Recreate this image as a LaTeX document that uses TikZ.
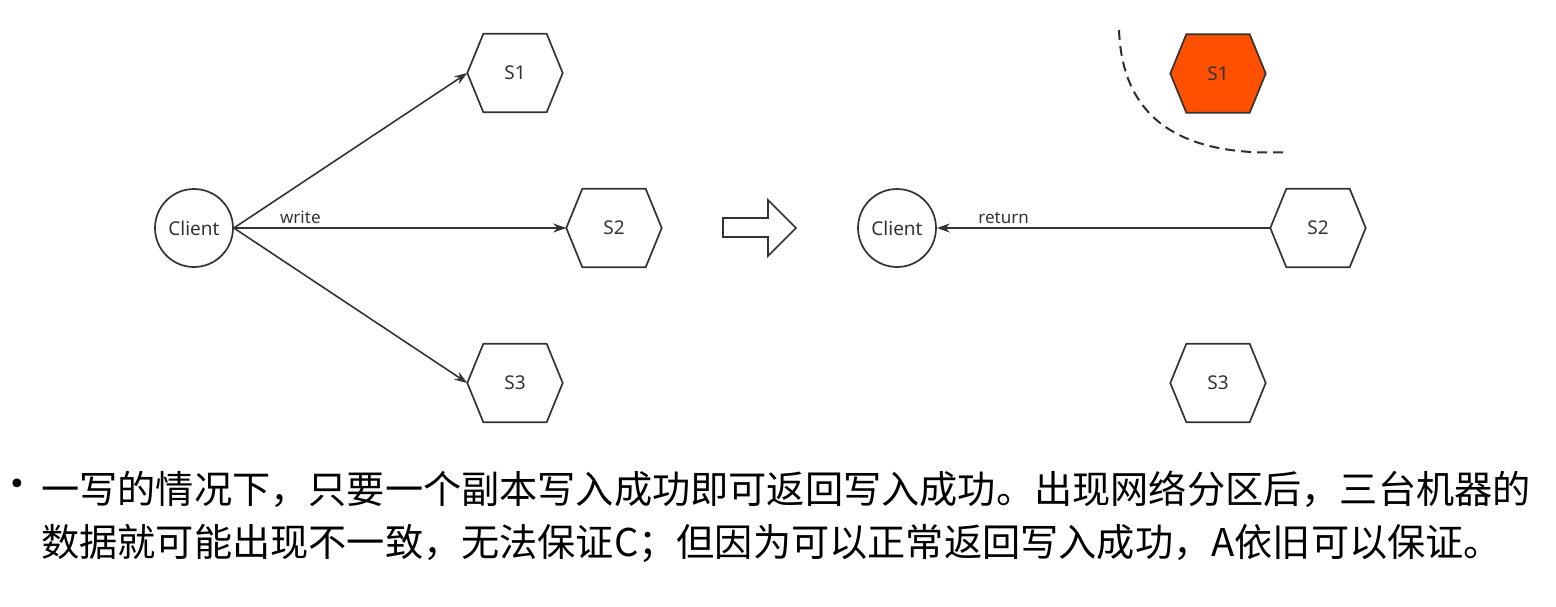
\documentclass[tikz,border=0pt]{standalone}
\usepackage{fontspec}
\setmainfont{Noto Sans}
\newfontfamily\cjk{Noto Sans CJK SC}
\newfontfamily\sym{DejaVu Sans}
\usetikzlibrary{arrows.meta,calc}
\definecolor{ink}{HTML}{333333}
\definecolor{hot}{HTML}{FF5000}
\tikzset{
  lbl/.style={font=\fontsize{19}{22}\selectfont, text=ink},
  hexn/.style={shape=rectangle, minimum width=95, minimum height=78, inner sep=0pt, lbl},
  cli/.style={circle, draw=ink, line width=1.7pt, minimum size=78, inner sep=0pt, lbl},
  conn/.style={draw=ink, line width=1.6pt, -{Stealth[length=13pt,width=9pt]}},
  edgelbl/.style={font=\fontsize{17}{20}\selectfont, text=ink},
  hexline/.style={draw=ink, line width=1.7pt, line join=miter},
  body/.style={font=\cjk\fontsize{38.2}{45}\selectfont, text=black, anchor=west, inner sep=0pt}
}
\newcommand{\hexdraw}[2][]{%
  \path[hexline,#1] (#2.west) -- ([xshift=16pt]#2.north west) -- ([xshift=-16pt]#2.north east) -- (#2.east) -- ([xshift=-16pt]#2.south east) -- ([xshift=16pt]#2.south west) -- cycle;}
\begin{document}
\begin{tikzpicture}[x=1pt,y=-1pt]
\useasboundingbox (0,0) rectangle (1556,606);
% left diagram
\node[cli] (c1) at (194,228) {Client};
\node[hexn] (s1) at (515,73) {};
\node[hexn] (s2) at (614,228) {};
\node[hexn] (s3) at (515,383) {};
\hexdraw{s1}\hexdraw{s2}\hexdraw{s3}
\node[lbl] at (s1) {S1};
\node[lbl] at (s2) {S2};
\node[lbl] at (s3) {S3};
\draw[conn] (c1.east) -- (s1.west);
\draw[conn] (c1.east) -- node[edgelbl, pos=0.2, above=0pt] {write} (s2.west);
\draw[conn] (c1.east) -- (s3.west);
% big arrow
\draw[draw=ink, line width=1.7pt, line join=miter] (723,218) -- (768,218) -- (768,200) -- (796,228) -- (768,256) -- (768,237) -- (723,237) -- cycle;
% right diagram
\node[cli] (c2) at (897,228) {Client};
\node[hexn] (r1) at (1218,73.5) {};
\node[hexn] (r2) at (1318,228) {};
\node[hexn] (r3) at (1218,383) {};
\hexdraw[fill=hot]{r1}\hexdraw{r2}\hexdraw{r3}
\node[lbl] at (r1) {S1};
\node[lbl] at (r2) {S2};
\node[lbl] at (r3) {S3};
\draw[conn] (r2.west) -- node[edgelbl, pos=0.8, above=0pt] {return} (c2.east);
\draw[draw=ink!90!black, line width=2pt, dash pattern=on 10pt off 6pt] (1119,30) .. controls (1122,110) and (1170,158) .. (1289,152);
% text
\node[font=\sym\fontsize{30}{34}\selectfont, anchor=center] (bul) at (17,487) {•};
\node[body] (t1) at (41,489) {一写的情况下，只要一个副本写入成功即可返回写入成功。出现网络分区后，三台机器的};
\node[body] (t2) at (41,543) {数据就可能出现不一致，无法保证C；但因为可以正常返回写入成功，A依旧可以保证。};
\end{tikzpicture}
\end{document}
